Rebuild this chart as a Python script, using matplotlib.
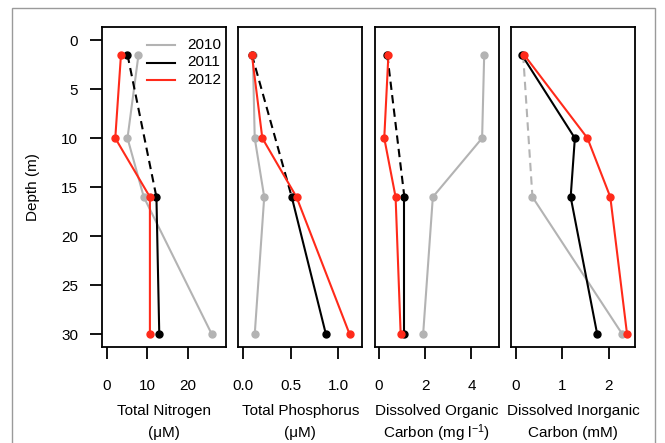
import matplotlib
matplotlib.use('Agg')
import matplotlib.pyplot as plt
import numpy as np
from matplotlib.patches import Rectangle
from matplotlib.lines import Line2D

plt.rcParams['font.family'] = ['Liberation Sans', 'DejaVu Sans']
plt.rcParams['mathtext.default'] = 'regular'

# depth of the samples (m)
depth = [1.5, 10, 16, 30]
years = ['2010', '2011', '2012']
colors = {'2010': '#b3b3b3', '2011': '#000000', '2012': '#ff2a1a'}

nan = np.nan
# Total nitrogen (uM)
tn_2010 = [7.8, 5.1, 9.1, 25.8]
tn_2011 = [5.1, nan, 12.2, 12.9]
tn_2012 = [3.5, 2.1, 10.6, 10.6]
# Total phosphorus (uM)
tp_2010 = [0.10, 0.12, 0.22, 0.12]
tp_2011 = [0.09, nan, 0.51, 0.87]
tp_2012 = [0.09, 0.20, 0.56, 1.12]
# Dissolved organic carbon (mg/l)
doc_2010 = [4.55, 4.46, 2.33, 1.91]
doc_2011 = [0.36, nan, 1.10, 1.10]
doc_2012 = [0.41, 0.23, 0.72, 0.94]
# Dissolved inorganic carbon (mM)
dic_2010 = [0.16, nan, 0.36, 2.29]
dic_2011 = [0.13, 1.27, 1.18, 1.75]
dic_2012 = [0.18, 1.54, 2.03, 2.39]

panels = [
    ({'2010': tn_2010, '2011': tn_2011, '2012': tn_2012}, [0, 10, 20], ['0', '10', '20'],
     (-1.23, 29.2), 'Total Nitrogen', '(\u03bcM)'),
    ({'2010': tp_2010, '2011': tp_2011, '2012': tp_2012}, [0, 0.5, 1.0], ['0.0', '0.5', '1.0'],
     (-0.053, 1.253), 'Total Phosphorus', '(\u03bcM)'),
    ({'2010': doc_2010, '2011': doc_2011, '2012': doc_2012}, [0, 2, 4], ['0', '2', '4'],
     (-0.17, 5.19), 'Dissolved Organic', 'Carbon (mg l$^{-1}$)'),
    ({'2010': dic_2010, '2011': dic_2011, '2012': dic_2012}, [0, 1, 2], ['0', '1', '2'],
     (-0.1, 2.56), 'Dissolved Inorganic', 'Carbon (mM)'),
]

W, H = 665, 443
FS = 11
fig = plt.figure(figsize=(W / 100, H / 100), dpi=100)
fig.patches.append(Rectangle((12 / W, -0.05), 643 / W, 1.05 - 8 / H, transform=fig.transFigure,
                             fill=False, edgecolor='#9a9a9a', lw=1))

lefts = [101.7, 238.3, 375, 511]
pw, top, bot = 124, 26.7, 346.7

for k, (data, ticks, tlabs, xlim, lab1, lab2) in enumerate(panels):
    ax = fig.add_axes([lefts[k] / W, (H - bot) / H, pw / W, (bot - top) / H])
    d = np.array(depth)
    for yr in years:
        v = np.array(data[yr], dtype=float)
        ax.plot(v, d, '-', color=colors[yr], lw=1.5, zorder=2)
        ok = np.where(~np.isnan(v))[0]
        for a, b in zip(ok[:-1], ok[1:]):
            if b - a > 1:
                ax.plot([v[a], v[b]], [d[a], d[b]], '--', color=colors[yr], lw=1.5,
                        dashes=(4, 2.5), zorder=2)
        ax.plot(v, d, 'o', color=colors[yr], ms=5, zorder=3)
    ax.set_xlim(*xlim)
    ax.set_ylim(31.26, -1.36)
    ax.set_xticks(ticks)
    ax.set_xticklabels(tlabs)
    ax.tick_params(axis='x', length=8.5, width=1.3, pad=15, labelsize=FS)
    if k == 0:
        ax.set_yticks([0, 5, 10, 15, 20, 25, 30])
        ax.tick_params(axis='y', length=9, width=1.3, pad=8, labelsize=FS)
    else:
        ax.set_yticks([])
    for s in ax.spines.values():
        s.set_linewidth(1.3)
    cx = (lefts[k] + pw / 2) / W
    fig.text(cx, 1 - 410.7 / H, lab1, ha='center', va='center', fontsize=FS)
    fig.text(cx, 1 - 433.3 / H, lab2, ha='center', va='center', fontsize=FS)

# legend in the first panel, drawn by hand to sit where the original has it
for i, yr in enumerate(years):
    yy = 1 - (45 + 17.5 * i) / H
    fig.add_artist(Line2D([147.3 / W, 175 / W], [yy, yy], color=colors[yr], lw=1.5))
    fig.text(187 / W, yy, yr, ha='left', va='center', fontsize=FS)

fig.text(33 / W, 1 - 186.7 / H, 'Depth (m)', rotation=90, ha='center', va='center', fontsize=FS)

fig.savefig('out.png', dpi=100)
